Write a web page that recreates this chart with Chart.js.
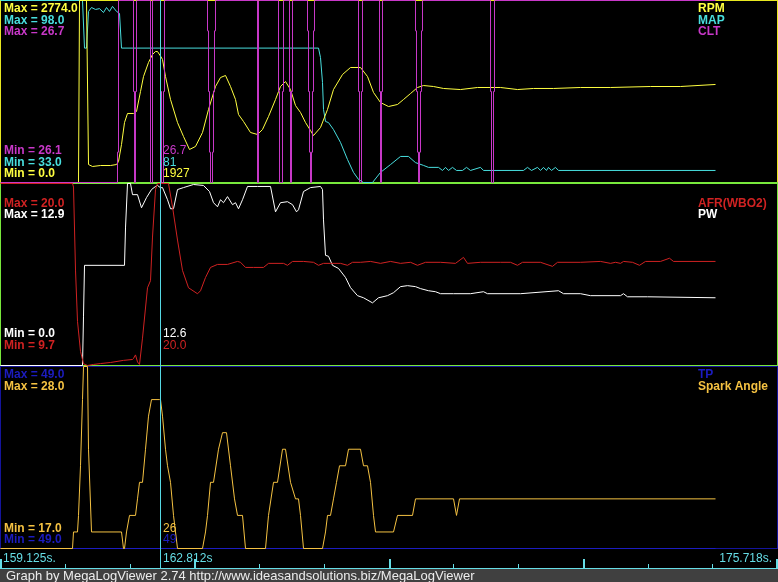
<!DOCTYPE html>
<html><head><meta charset="utf-8">
<script src="https://cdn.jsdelivr.net/npm/chart.js@4/dist/chart.umd.min.js"></script>
<style>
html,body{margin:0;padding:0;background:#000;width:778px;height:582px;overflow:hidden}
canvas{position:absolute;left:0;display:block}
</style></head><body>
<canvas id="p1" width="778" height="183" style="top:0;width:778px;height:183px"></canvas>
<canvas id="p2" width="778" height="183" style="top:183px;width:778px;height:183px"></canvas>
<canvas id="p3" width="778" height="216" style="top:366px;width:778px;height:216px"></canvas>
<script>
// ---- view / cursor ----
const viewFirstRecord = 0, viewLastRecord = 777;
const cursorRecord = 160;
const startTime = 159.125, cursorTime = 162.812, endTime = 175.718;
const footerText = "Graph by MegaLogViewer 2.74 http://www.ideasandsolutions.biz/MegaLogViewer";

// ---- RPM ----
const rpmRecord = [0,78,79,86,88,92,100,110,116,118,121,124,127,133,136,140,143,148,152,155,157,160,162,165,170,177,183,189,195,202,208,215,220,225,230,235,238,243,250,257,262,268,275,280,285,290,295,300,305,310,313,320,327,333,342,350,360,367,373,380,388,397,403,410,417,423,433,443,460,477,500,517,533,553,580,610,650,680,715];
const rpmValue  = [0,0,2774,2774,274,244,259,259,274,320,579,914,1052,1052,1082,1387,1615,1829,1951,1996,1996,1927,1875,1615,1265,914,701,503,549,762,1113,1463,1600,1631,1463,1265,1036,930,762,732,808,1006,1265,1463,1539,1417,1173,1067,914,792,716,838,1113,1417,1646,1753,1753,1615,1372,1219,1158,1189,1265,1356,1448,1478,1463,1433,1417,1448,1448,1417,1433,1433,1448,1448,1463,1463,1494];

// ---- MAP ----
const mapRecord = [0,82,84,86,88,91,95,99,103,106,109,112,116,119,121,160,318,320,322,323,325,328,333,340,347,353,358,363,372,380,390,400,408,415,423,428,438,442,445,448,452,456,462,466,470,480,483,523,527,531,537,540,543,546,548,551,555,558,715];
const mapValue  = [98,98,81,81,94.1,95.5,94.8,95.1,93.7,95.5,94.1,95.9,94.1,93.4,81,81,81,77.6,68.7,59.1,54.8,54.4,51.9,47.3,41.2,36.6,34.1,33,33,36.6,39.4,42.3,42.3,40.1,39.1,38.4,38.4,37.3,38.4,37.3,38.4,37.3,37.3,38.4,37.3,38.4,37.3,37.3,38.4,37.3,38.4,37.3,38.4,37.3,38.4,37.3,38.4,37.3,37.3];

// ---- CLT ----
const cltRecord = [0,117,118,119,133,134,135,136,137,150,151,152,153,160,161,162,163,164,165,207,208,209,210,211,212,213,214,215,216,257,258,259,278,279,280,282,283,284,289,290,291,292,293,307,308,309,310,311,312,313,314,315,358,359,360,361,362,363,379,380,381,382,383,415,416,417,418,419,420,421,422,423,490,491,492,493,494,495,715];
const cltValue  = [26.1,26.1,26.2,26.7,26.7,26.4,26.1,26.4,26.7,26.7,26.1,26.1,26.7,26.7,26.4,26.1,26.1,26.4,26.7,26.7,26.6,26.4,26.2,26.1,26.1,26.2,26.4,26.6,26.7,26.7,26.1,26.7,26.7,26.4,26.1,26.1,26.4,26.7,26.7,26.4,26.1,26.4,26.7,26.7,26.6,26.4,26.2,26.1,26.2,26.4,26.6,26.7,26.7,26.4,26.1,26.1,26.4,26.7,26.7,26.4,26.1,26.4,26.7,26.7,26.6,26.4,26.2,26.1,26.2,26.4,26.6,26.7,26.7,26.4,26.1,26.1,26.4,26.7,26.7];

// ---- AFR(WBO2) ----
const afrRecord = [0,72,73,75,77,80,83,87,93,100,110,123,132,133,135,137,139,142,147,150,152,155,157,160,168,172,177,182,188,197,200,205,210,217,227,237,240,245,253,263,268,283,287,292,303,313,318,323,330,340,347,352,360,370,380,390,400,410,417,425,440,455,463,467,480,500,510,517,522,540,552,557,580,600,610,615,620,623,632,639,645,660,669,673,715];
const afrValue  = [20.0,20.0,19.8,15.1,12.2,10.5,9.8,9.7,9.76,9.81,9.87,9.99,10.04,10.1,10.3,9.9,9.76,11.25,14.1,14.5,16.97,19.66,20.0,20.0,20.0,18.68,16.8,15.08,14.1,13.76,13.93,14.68,15.25,15.42,15.42,15.59,15.54,15.25,15.25,15.25,15.48,15.48,15.37,15.59,15.59,15.54,15.37,15.48,15.48,15.48,15.37,15.54,15.54,15.59,15.48,15.59,15.48,15.54,15.37,15.54,15.54,15.48,15.82,15.48,15.54,15.54,15.54,15.37,15.54,15.54,15.31,15.54,15.54,15.59,15.48,15.54,15.48,15.59,15.54,15.37,15.59,15.59,15.77,15.59,15.59];

// ---- PW ----
const pwRecord = [0,82,83,84,124,125,127,130,132,137,141,146,151,155,157,160,162,167,170,173,177,183,193,203,209,213,217,220,223,227,232,235,238,242,247,257,270,275,280,287,292,296,298,303,310,320,322,323,325,328,332,338,345,350,357,363,372,378,387,393,400,407,415,420,428,435,440,453,470,483,487,520,558,563,580,590,620,623,627,647,715];
const pwValue  = [0,0,3.5,7.1,7.1,9.75,12.9,12.9,12.11,12.11,11.18,11.9,12.47,12.69,12.76,12.6,12.61,11.75,11.11,11.11,12.47,12.61,12.83,12.76,12.33,11.54,11.25,11.75,11.54,11.97,11.4,11.54,11.11,11.75,12.69,12.69,12.69,10.89,11.54,11.61,11.4,10.89,11.04,12.33,12.61,12.69,12.47,10.32,7.81,7.74,7.1,6.88,6.24,5.52,4.95,4.8,4.44,4.8,4.95,5.16,5.59,5.66,5.59,5.45,5.3,5.23,5.09,5.09,5.09,5.23,5.09,5.09,5.3,5.09,5.09,4.95,4.95,5.09,4.87,4.87,4.8];

// ---- TP ----
const tpRecord = [0,160,715];
const tpValue  = [49,49,49];

// ---- Spark Angle ----
const sparkRecord = [0,72,73,77,78,80,82,83,87,88,91,121,123,124,126,129,135,137,139,142,145,148,151,159,160,162,165,167,170,173,175,177,202,205,207,210,213,218,222,226,230,234,237,242,245,265,268,273,277,282,285,290,295,298,300,303,322,325,327,330,333,336,339,345,348,360,363,367,370,373,375,393,397,412,415,453,456,459,715];
const sparkValue  = [17,17,18,18,19,22,26,28,28,23,18,18,17,17,18,19,19,20,21,21,23,25,26,26,26,25,23,22,21,19,18,17,17,18,19,21,21,23,24,24,22,20,19,19,17,17,19,21,21,23,23,21,20,20,19,17,17,18,19,19,20,21,22,22,23,23,22,22,21,19,18,18,19,19,20,20,19,20,20];

// ---- panels ----
const FONT_B = 'bold 12px "Liberation Sans", Arial, sans-serif';
const FONT_R = '12px "Liberation Sans", Arial, sans-serif';
const FONT_F = '13px "Liberation Sans", Arial, sans-serif';
const CURSOR_COLOR = '#55d8e4';
const TIME_COLOR = '#66dde6';

const panels = [
  { id:'p1', border:'#e8e820', bottomBorder:'#78e83c',
    series:[
      {name:'CLT', rec:cltRecord, val:cltValue, color:'#c838c8', cd:1, stepped:'after'},
      {name:'RPM', rec:rpmRecord, val:rpmValue, color:'#ffff40', cd:0},
      {name:'MAP', rec:mapRecord, val:mapValue, color:'#48dede', cd:0}
    ],
    maxOrder:['RPM','MAP','CLT'], topSlot:0, minOrder:['CLT','MAP','RPM'], botSlot:0 },
  { id:'p2', border:'#78e83c',
    series:[
      {name:'AFR(WBO2)', rec:afrRecord, val:afrValue, color:'#d02222', cd:1},
      {name:'PW', rec:pwRecord, val:pwValue, color:'#ffffff', cd:1}
    ],
    maxOrder:['AFR(WBO2)','PW'], topSlot:1, minOrder:['PW','AFR(WBO2)'], botSlot:0 },
  { id:'p3', border:'#14149c', timeStrip:true,
    series:[
      {name:'Spark Angle', rec:sparkRecord, val:sparkValue, color:'#f5c242', cd:0},
      {name:'TP', rec:tpRecord, val:tpValue, color:'#1c1cc0', cd:0}
    ],
    maxOrder:['TP','Spark Angle'], topSlot:0, minOrder:['Spark Angle','TP'], botSlot:1 }
];

const PANEL_H = 183;
const topBase = k => 12 + 11.6*k;
const botBase = k => 154 + 11.6*k;

function valueAt(s, r){
  let v = s.val[0];
  for (let i=0;i<s.rec.length;i++){ if (s.rec[i] <= r) v = s.val[i]; }
  return v;
}

panels.forEach(p => {
  p.series.forEach(s => {
    s.min = Math.min(...s.val); s.max = Math.max(...s.val);
  });
  const canvas = document.getElementById(p.id);
  const scales = { x:{type:'linear', min:viewFirstRecord, max:viewLastRecord, display:false} };
  p.series.forEach((s,i) => {
    scales['y'+i] = {type:'linear', display:false, min:s.min, max:(s.max>s.min?s.max:s.min+1)};
  });
  const byName = {}; p.series.forEach(s => byName[s.name]=s);

  const panelPlugin = {
    id:'panel_'+p.id,
    beforeDraw(chart){
      const c = chart.ctx;
      c.save(); c.fillStyle='#000'; c.fillRect(0,0,chart.width,chart.height); c.restore();
    },
    beforeDatasetsDraw(chart){
      const c = chart.ctx;
      c.save();
      c.strokeStyle = p.border; c.lineWidth = 1;
      c.strokeRect(0.5,0.5,chart.width-1,PANEL_H-1);
      if (p.bottomBorder){
        c.fillStyle = p.bottomBorder;
        c.fillRect(0, PANEL_H-1, chart.width, 1);
      }
      c.restore();
      c.save(); c.translate(0.5,0.5);
    },
    afterDatasetsDraw(chart){
      const c = chart.ctx;
      c.restore();
      c.save();
      const xs = chart.scales.x;
      // cursor
      const cx = Math.round(xs.getPixelForValue(cursorRecord)) + 0.5;
      c.strokeStyle = CURSOR_COLOR; c.lineWidth = 1;
      c.beginPath(); c.moveTo(cx,0); c.lineTo(cx, p.timeStrip ? 202 : PANEL_H); c.stroke();
      c.textBaseline = 'alphabetic';
      c.textAlign = 'left';
      // max labels + legend
      p.maxOrder.forEach((n,k) => {
        const s = byName[n]; const y = topBase(p.topSlot+k);
        c.fillStyle = s.color;
        c.font = FONT_B;
        c.fillText('Max = ' + s.max.toFixed(1), 4, y);
        c.fillText(s.name, 698, y);
      });
      // min labels + cursor values
      p.minOrder.forEach((n,k) => {
        const s = byName[n]; const y = botBase(p.botSlot+k);
        c.fillStyle = s.color;
        c.font = FONT_B;
        c.fillText('Min = ' + s.min.toFixed(1), 4, y);
        c.font = FONT_R;
        c.fillText(valueAt(s, cursorRecord).toFixed(s.cd), 163, y);
      });
      if (p.timeStrip){
        c.fillStyle = TIME_COLOR;
        c.fillRect(0, 202, chart.width, 1);
        const n = 12;
        for (let i=0;i<=n;i++){
          const r = viewFirstRecord + (viewLastRecord-viewFirstRecord)*i/n;
          let px = Math.round(xs.getPixelForValue(r));
          if (i%3===0){
            px = Math.min(Math.max(px,0), chart.width-2);
            c.fillRect(px, 193, 2, 9);
          } else {
            c.fillRect(px, 198, 1, 4);
          }
        }
        c.font = FONT_R;
        c.fillStyle = TIME_COLOR;
        c.textAlign='left';
        c.fillText(startTime.toFixed(3)+'s.', 3, 195.5);
        c.fillText(cursorTime.toFixed(3)+'s', 163, 195.5);
        c.textAlign='right';
        c.fillText(endTime.toFixed(3)+'s.', 772, 195.5);
        // footer
        c.fillStyle = '#404040';
        c.fillRect(0, 203, chart.width, chart.height-203);
        c.fillStyle = '#ececec';
        c.textAlign='left';
        c.font = FONT_F;
        c.fillText(footerText, 6, 214);
      }
      c.restore();
    }
  };

  new Chart(canvas, {
    type:'line',
    data:{ datasets: p.series.map((s,i) => ({
      label:s.name,
      data:s.rec.map((r,j)=>({x:r, y:s.val[j]})),
      yAxisID:'y'+i,
      borderColor:s.color, backgroundColor:s.color,
      borderWidth:1, pointRadius:0, tension:0, fill:false, clip:false,
      stepped: s.stepped || false
    }))},
    options:{
      responsive:false, animation:false, devicePixelRatio:1,
      layout:{padding:{left:0, right:1, top:0, bottom:canvas.height-182}},
      plugins:{legend:{display:false}, tooltip:{enabled:false}, title:{display:false}},
      scales:scales,
      events:[]
    },
    plugins:[panelPlugin]
  });
});
</script>
</body></html>
